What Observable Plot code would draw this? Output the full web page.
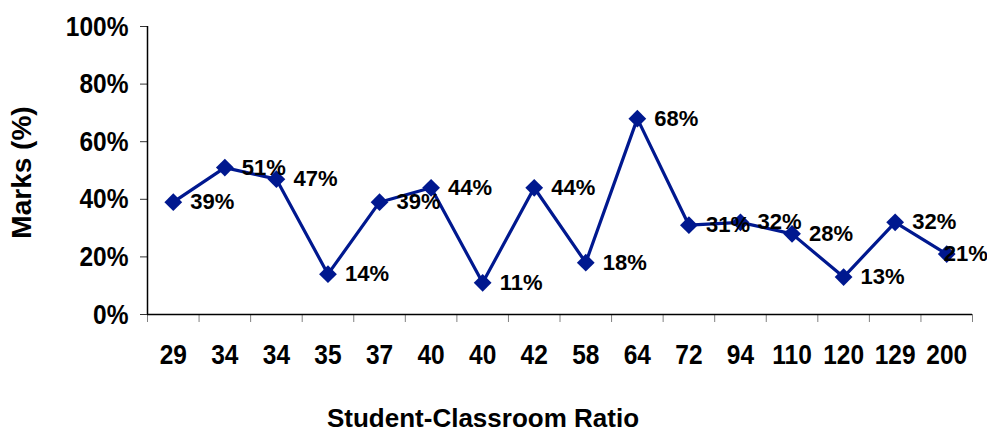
<!DOCTYPE html>
<html>
<head>
<meta charset="utf-8">
<script src="https://cdn.jsdelivr.net/npm/d3@7"></script>
<script src="https://cdn.jsdelivr.net/npm/@observablehq/plot@0.6"></script>
<style>
  body { margin: 0; background: #fff; }
</style>
</head>
<body>
<div id="chart"></div>
<script>
// Student-classroom ratio per school (categories, in order; some repeat)
const ratioLabels = ["29", "34", "34", "35", "37", "40", "40", "42", "58", "64", "72", "94", "110", "120", "129", "200"];
// Marks in percent for each school
const marksPct = [39, 51, 47, 14, 39, 44, 11, 44, 18, 68, 31, 32, 28, 13, 32, 21];
const yTicks = [0, 20, 40, 60, 80, 100];

const navy = "#00188f";
const font = "'Liberation Sans', Arial, sans-serif";

// index-based x so repeated ratio labels stay separate categories
const points = marksPct.map((v, i) => ({i, v, label: ratioLabels[i]}));
const n = ratioLabels.length;

const chart = Plot.plot({
  width: 987,
  height: 435,
  marginLeft: 147,
  marginRight: 15,
  marginTop: 26,
  marginBottom: 121,
  style: {fontFamily: font, fontWeight: "bold", color: "#000", background: "#fff", overflow: "visible"},
  x: {type: "linear", domain: [-0.5, n - 0.5]},
  y: {domain: [0, 100]},
  marks: [
    // tick marks between categories
    Plot.axisX({ticks: d3.range(-0.5, n, 1), tickSize: 8, tickFormat: () => "", stroke: "#808080", label: null}),
    // category labels
    Plot.axisX({ticks: d3.range(n), tickSize: 0, tickPadding: 29, tickFormat: i => ratioLabels[i],
                fontSize: 28.5, fontWeight: "bold", label: null}),
    Plot.axisY({ticks: yTicks, tickSize: 7, tickPadding: 12, tickFormat: d => d + "%",
                fontSize: 28.5, fontWeight: "bold", stroke: "#333", label: null}),
    Plot.ruleY([0], {stroke: "#000", strokeWidth: 1.5}),
    Plot.ruleX([-0.5], {stroke: "#000", strokeWidth: 1.5}),
    Plot.line(points, {x: "i", y: "v", stroke: navy, strokeWidth: 3.2}),
    Plot.dot(points, {x: "i", y: "v", symbol: "diamond2", r: 8, fill: navy, stroke: "none"}),
    // value labels to the right of each marker
    Plot.text(points.slice(0, -1), {x: "i", y: "v", text: d => d.v + "%", textAnchor: "start", dx: 17,
                                    fontSize: 22, fontWeight: "bold", fill: "#000", ariaLabel: "value label"}),
    // the last label is pulled back inside the plot edge
    Plot.text(points.slice(-1), {x: "i", y: "v", text: d => d.v + "%", textAnchor: "start", dx: -3,
                                 fontSize: 22, fontWeight: "bold", fill: "#000", ariaLabel: "value label"}),
    // axis titles
    Plot.text(["Marks (%)"], {frameAnchor: "left", rotate: -90, dx: -125, dy: 2, textAnchor: "middle", lineAnchor: "middle",
                              fontSize: 28, fontWeight: "bold", fill: "#000"}),
    Plot.text(["Student-Classroom Ratio"], {frameAnchor: "bottom", dx: -77, dy: 104, textAnchor: "middle", lineAnchor: "middle",
                                            fontSize: 26, fontWeight: "bold", fill: "#000"})
  ]
});

// condensed lettering: squeeze glyphs horizontally around each label's anchor
function condense(selector, k) {
  d3.select(chart).selectAll(selector).attr("transform", function () {
    return (this.getAttribute("transform") || "") + ` scale(${k},1)`;
  });
}
condense('g[aria-label="x-axis tick label"] text, g[aria-label="y-axis tick label"] text', 0.86);
condense('g[aria-label="value label"] text', 0.92);

document.getElementById("chart").append(chart);
</script>
</body>
</html>
